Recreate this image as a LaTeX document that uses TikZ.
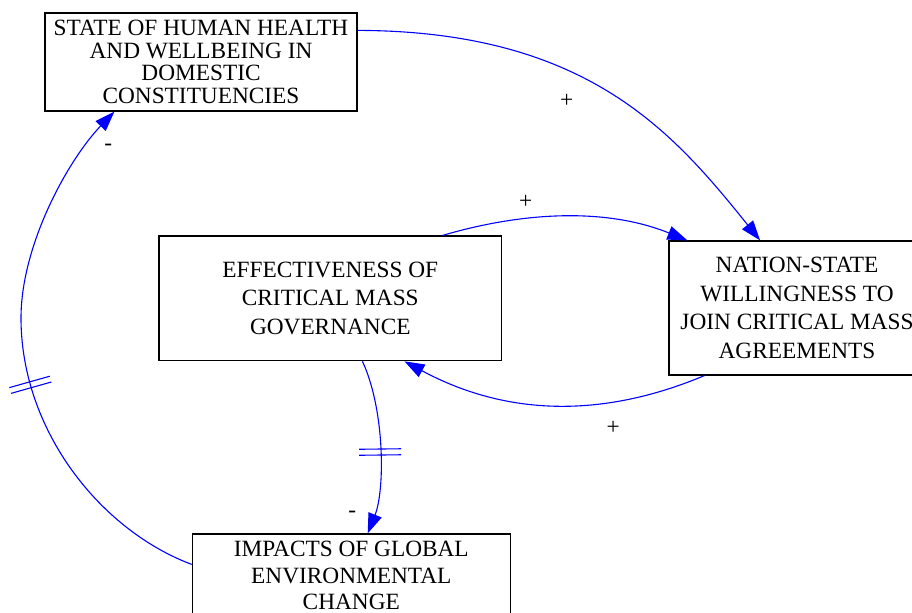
\documentclass[tikz,border=0pt]{standalone}
\usepackage{fontspec}
\setmainfont{Liberation Serif}
\usetikzlibrary{arrows.meta,calc,decorations.markings}
\begin{document}
\begin{tikzpicture}[x=1bp,y=-1bp,
  box/.style={draw=black,line width=1.2bp,inner sep=0pt,align=center},
  link/.style={draw=blue,line width=1.1bp,-{Triangle[length=20bp,width=14bp]}},
  sign/.style={inner sep=0pt,font=\fontsize{23.4}{28}\selectfont},
  hash/.style={decoration={markings,mark=at position #1 with {\draw[blue,arrows=-,line width=1.1bp] (-3bp,-21bp)--(-3bp,21bp) (3bp,-21bp)--(3bp,21bp);}},postaction={decorate}}
]
\useasboundingbox (0,0) rectangle (912,613);
\clip (0,0) rectangle (912,613);

\node[box,minimum width=312bp,minimum height=98bp,font=\fontsize{23.4}{22.7}\selectfont] (s) at (201,62)
  {STATE OF HUMAN HEALTH\\AND WELLBEING IN\\DOMESTIC\\CONSTITUENCIES};
\node[box,minimum width=342.5bp,minimum height=124.7bp,font=\fontsize{23.4}{28.7}\selectfont] (e) at (330.3,298.4)
  {EFFECTIVENESS OF\\CRITICAL MASS\\GOVERNANCE};
\node[box,minimum width=256bp,minimum height=134bp,font=\fontsize{23.4}{28.6}\selectfont] (n) at (797,308)
  {NATION-STATE\\WILLINGNESS TO\\JOIN CRITICAL MASS\\AGREEMENTS};
\node[box,minimum width=318bp,minimum height=83.2bp,font=\fontsize{23.4}{26.4}\selectfont] (i) at (351.3,575.6)
  {IMPACTS OF GLOBAL\\ENVIRONMENTAL\\CHANGE};

\draw[link] ($(s.north east)+(0,18)$) .. controls (587,31) and (673,132) .. ($(n.north west)+(91.7,0)$);
\draw[link] ($(e.north west)+(284,0)$) .. controls (520,212.6) and (604,206.8) .. ($(n.north west)+(19,0)$);
\draw[link] ($(n.south west)+(36,0)$) .. controls (613,414) and (515,420.75) .. ($(e.south west)+(246,0)$);
\draw[link,hash=93bp] ($(e.south west)+(204,0)$) .. controls (385,410) and (385,490) .. ($(i.north west)+(176,0)$);
\coordinate (m5) at (21,318);
\draw[link,hash=250bp] ($(i.north west)+(0,31)$) .. controls (100,530) and (21,430) .. (m5)
  .. controls (21,245) and (68,160) .. ($(s.south west)+(70,0)$);

\node[sign] (p1) at (566.7,100.7) {+};
\node[sign] (p2) at (525.7,201.7) {+};
\node[sign] (p3) at (613.3,427.7) {+};
\node[sign] (m1) at (108.3,147.4) {-};
\node[sign] (m2) at (352.3,514) {-};
\end{tikzpicture}
\end{document}
